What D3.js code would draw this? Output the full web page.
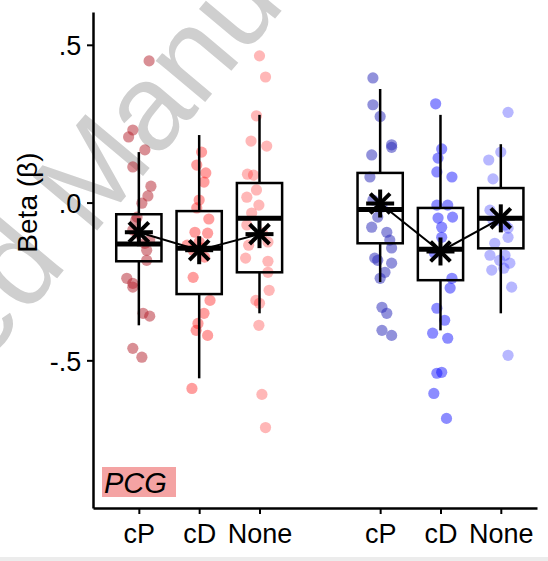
<!DOCTYPE html>
<html>
<head>
<meta charset="utf-8">
<script src="https://cdn.jsdelivr.net/npm/d3@7"></script>
<style>
  body { margin: 0; background: #fff; }
  text { font-family: Arial, "Liberation Sans", sans-serif; }
</style>
</head>
<body>
<div id="chart"></div>
<script>
// categories along the x axis (two groups of three)
const labels = ["cP", "cD", "None", "cP", "cD", "None"];
const slots = [1, 2, 3, 5, 6, 7];
const yTicks = [0.5, 0, -0.5];
const yTickLabels = [".5", ".0", "-.5"];

// box summary values per category
const whiskerLo = [-0.389, -0.557, -0.351, -0.252, -0.405, -0.351];
const q1 = [-0.186, -0.290, -0.221, -0.129, -0.246, -0.145];
const median = [-0.131, -0.145, -0.050, -0.022, -0.148, -0.050];
const q3 = [-0.037, -0.027, 0.062, 0.094, -0.017, 0.046];
const whiskerHi = [0.160, 0.214, 0.278, 0.360, 0.278, 0.185];
const means = [-0.094, -0.151, -0.100, -0.003, -0.155, -0.050];

// individual betas: [jitter (in slot units), value]
const ptsPcgCP = [[0.17, 0.449], [-0.10, 0.230], [-0.17, 0.208], [0.10, 0.167], [-0.10, 0.113],
  [0.20, 0.052], [0.15, 0.021], [0.05, -0.002], [-0.05, -0.056], [-0.10, -0.087], [-0.02, -0.097],
  [0.10, -0.129], [0.13, -0.151], [0.13, -0.183], [-0.20, -0.240], [-0.10, -0.268], [0.07, -0.351],
  [0.18, -0.360], [-0.10, -0.462], [0.05, -0.490], [-0.10, -0.256], [-0.03, -0.046], [0.18, -0.119]];
const ptsPcgCD = [[0.04, 0.160], [-0.04, 0.119], [0.11, 0.094], [0.08, 0.065], [0.00, 0.008],
  [-0.04, -0.017], [0.16, -0.052], [-0.07, -0.094], [0.14, -0.097], [0.00, -0.125], [-0.20, -0.135],
  [0.09, -0.173], [-0.10, -0.237], [0.18, -0.310], [0.08, -0.351], [-0.02, -0.383], [-0.05, -0.405],
  [0.14, -0.421], [-0.12, -0.589], [0.04, -0.144], [-0.10, -0.151]];
const ptsPcgNone = [[0.00, 0.465], [0.10, 0.398], [-0.05, 0.275], [-0.14, 0.195], [0.12, 0.179],
  [-0.20, 0.090], [-0.10, 0.087], [-0.05, 0.040], [-0.21, 0.017], [-0.01, -0.008], [-0.13, -0.033],
  [-0.21, -0.071], [0.05, -0.097], [0.14, -0.125], [-0.18, -0.135], [-0.23, -0.176], [0.14, -0.186],
  [0.14, -0.221], [0.16, -0.278], [-0.06, -0.310], [0.00, -0.319], [-0.01, -0.389], [0.04, -0.608],
  [0.10, -0.713]];
const ptsB_CP = [[-0.12, 0.395], [-0.12, 0.310], [0.00, 0.273], [0.19, 0.183], [0.19, 0.175],
  [-0.14, 0.151], [-0.17, 0.081], [-0.12, 0.008], [0.03, -0.014], [-0.14, -0.078], [-0.04, -0.046],
  [0.11, -0.094], [0.16, -0.119], [0.19, -0.144], [-0.09, -0.176], [-0.04, -0.183], [0.19, -0.192],
  [0.08, -0.221], [0.00, -0.240], [0.03, -0.332], [0.11, -0.351], [0.03, -0.405], [0.19, -0.421]];
const ptsB_CD = [[-0.08, 0.313], [0.02, 0.170], [-0.04, 0.141], [-0.06, 0.097], [0.19, 0.081],
  [-0.06, -0.008], [0.12, -0.008], [0.20, -0.046], [-0.04, -0.049], [0.02, -0.078], [0.02, -0.110],
  [-0.10, -0.160], [0.19, -0.240], [0.16, -0.271], [-0.06, -0.335], [0.07, -0.373], [-0.13, -0.414],
  [0.12, -0.430], [-0.06, -0.541], [0.02, -0.538], [-0.11, -0.605], [0.10, -0.684]];
const ptsB_None = [[0.12, 0.286], [0.00, 0.160], [-0.20, 0.135], [-0.13, 0.075], [-0.18, -0.024],
  [-0.13, -0.056], [0.07, -0.071], [0.12, -0.081], [-0.05, -0.056], [0.12, -0.110], [-0.10, -0.129],
  [-0.18, -0.167], [0.07, -0.167], [-0.02, -0.183], [0.15, -0.192], [-0.15, -0.214], [0.05, -0.208],
  [0.18, -0.268], [0.12, -0.484]];
const points = [ptsPcgCP, ptsPcgCD, ptsPcgNone, ptsB_CP, ptsB_CD, ptsB_None];

// dot colours per category
const dotColors = ["#b3202c", "#ff0000", "#ff1f1f", "#2424b8", "#0000ff", "#1f1fff"];
const dotOpacity = [0.5, 0.38, 0.32, 0.5, 0.45, 0.32];

const width = 548,
  height = 561,
  margin = { top: 12, bottom: 53, left: 93, right: 11 };

const svg = d3.select("#chart")
  .append("svg")
  .attr("width", width)
  .attr("height", height);

// watermark behind everything
svg.append("text")
  .attr("transform", "translate(-258,654) rotate(-50)")
  .attr("font-size", 122)
  .attr("fill", "#cfcfcf")
  .text("Accepted Manuscript");

// + SCALES
const xScale = d3.scaleLinear()
  .domain([0.24, 7.6])
  .range([margin.left, width - margin.right]);

const yScale = d3.scaleLinear()
  .domain([-0.968, 0.604])
  .range([height - margin.bottom, margin.top]);

const boxW = 0.75;

// + POINTS
points.forEach((pts, i) => {
  svg.append("g")
    .selectAll("circle")
    .data(pts)
    .join("circle")
    .attr("cx", d => xScale(slots[i] + d[0]))
    .attr("cy", d => yScale(d[1]))
    .attr("r", 5.6)
    .attr("fill", dotColors[i])
    .attr("fill-opacity", dotOpacity[i]);
});

// + BOXES
const boxes = svg.append("g")
  .selectAll("g")
  .data(d3.range(labels.length))
  .join("g");

boxes.append("line")
  .attr("x1", i => xScale(slots[i]))
  .attr("x2", i => xScale(slots[i]))
  .attr("y1", i => yScale(whiskerHi[i]))
  .attr("y2", i => yScale(q3[i]))
  .attr("stroke", "#000")
  .attr("stroke-width", 2.5);

boxes.append("line")
  .attr("x1", i => xScale(slots[i]))
  .attr("x2", i => xScale(slots[i]))
  .attr("y1", i => yScale(q1[i]))
  .attr("y2", i => yScale(whiskerLo[i]))
  .attr("stroke", "#000")
  .attr("stroke-width", 2.5);

boxes.append("rect")
  .attr("x", i => xScale(slots[i] - boxW / 2))
  .attr("width", xScale(boxW) - xScale(0))
  .attr("y", i => yScale(q3[i]))
  .attr("height", i => yScale(q1[i]) - yScale(q3[i]))
  .attr("fill", "none")
  .attr("stroke", "#000")
  .attr("stroke-width", 2.5);

boxes.append("line")
  .attr("x1", i => xScale(slots[i] - boxW / 2))
  .attr("x2", i => xScale(slots[i] + boxW / 2))
  .attr("y1", i => yScale(median[i]))
  .attr("y2", i => yScale(median[i]))
  .attr("stroke", "#000")
  .attr("stroke-width", 5);

// + MEAN LINES (one per group of three)
const meanLine = d3.line()
  .x(i => xScale(slots[i]))
  .y(i => yScale(means[i]));

svg.append("g")
  .selectAll("path")
  .data([[0, 1, 2], [3, 4, 5]])
  .join("path")
  .attr("d", meanLine)
  .attr("fill", "none")
  .attr("stroke", "#000")
  .attr("stroke-width", 2);

// asterisks at the means
const arm = 14;
const stars = svg.append("g")
  .selectAll("g")
  .data(d3.range(labels.length))
  .join("g")
  .attr("transform", i => `translate(${xScale(slots[i])},${yScale(means[i])})`);

[0, 45, 90, 135].forEach(a => {
  stars.append("line")
    .attr("x1", -arm * Math.cos(a * Math.PI / 180))
    .attr("y1", -arm * Math.sin(a * Math.PI / 180))
    .attr("x2", arm * Math.cos(a * Math.PI / 180))
    .attr("y2", arm * Math.sin(a * Math.PI / 180))
    .attr("stroke", "#000")
    .attr("stroke-width", 4);
});

// + AXES
const xAxis = d3.axisBottom(xScale)
  .tickValues(slots)
  .tickFormat((d, i) => labels[i])
  .tickSize(6)
  .tickSizeOuter(0);

const yAxis = d3.axisLeft(yScale)
  .tickValues(yTicks)
  .tickFormat((d, i) => yTickLabels[i])
  .tickSize(6)
  .tickSizeOuter(0);

const gx = svg.append("g")
  .attr("transform", `translate(0,${height - margin.bottom})`)
  .call(xAxis);

const gy = svg.append("g")
  .attr("transform", `translate(${margin.left},0)`)
  .call(yAxis);

[gx, gy].forEach(g => {
  g.select(".domain").attr("stroke", "#000").attr("stroke-width", 2.5);
  g.selectAll(".tick line").attr("stroke", "#000").attr("stroke-width", 2);
  g.selectAll(".tick text")
    .attr("fill", "#000")
    .attr("font-size", 27)
    .attr("font-family", "Arial, 'Liberation Sans', sans-serif");
});
gx.selectAll(".tick text").attr("dy", "0.98em");
gy.selectAll(".tick text").attr("dx", "-0.1em").attr("dy", "0.36em");

// y axis title
svg.append("text")
  .attr("transform", `translate(37,${yScale(0)}) rotate(-90)`)
  .attr("text-anchor", "middle")
  .attr("font-size", 28)
  .text("Beta (β)");

// region tag
svg.append("rect")
  .attr("x", 102)
  .attr("y", 467)
  .attr("width", 74)
  .attr("height", 30)
  .attr("fill", "#f4a3a3");

svg.append("text")
  .attr("x", 104)
  .attr("y", 493)
  .attr("font-size", 29)
  .attr("font-style", "italic")
  .text("PCG");

// faint page edge at the bottom
svg.append("rect")
  .attr("x", 0)
  .attr("y", 557)
  .attr("width", width)
  .attr("height", 4)
  .attr("fill", "#ececec");
</script>
</body>
</html>
